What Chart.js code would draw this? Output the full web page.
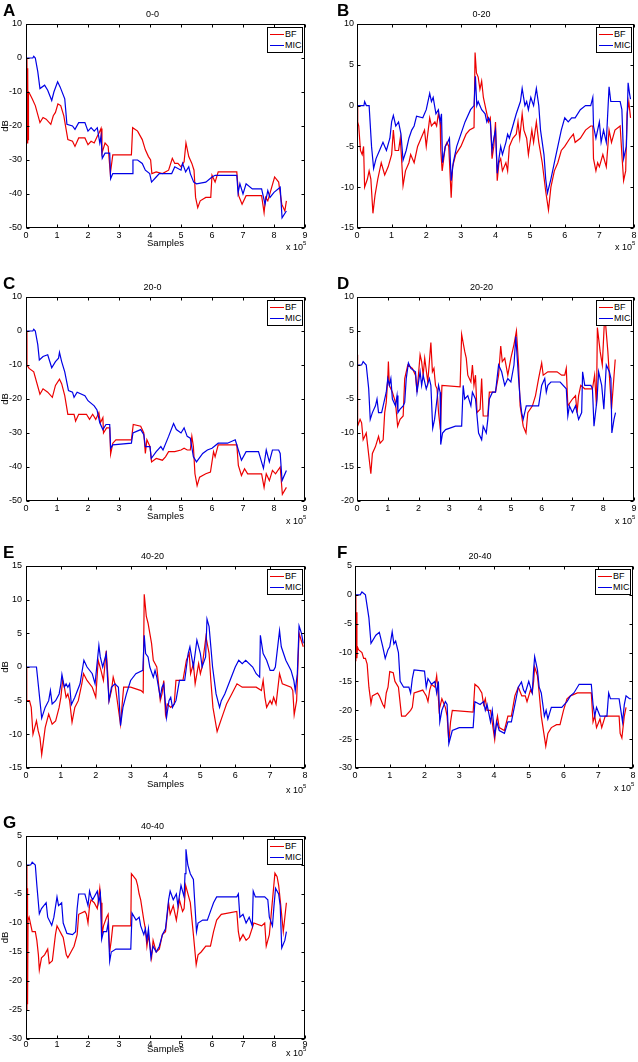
<!DOCTYPE html>
<html><head><meta charset="utf-8">
<script src="https://cdn.jsdelivr.net/npm/chart.js@4"></script>
<style>
body{margin:0;width:638px;height:1062px;background:#fff;position:relative;overflow:hidden;font-family:"Liberation Sans",Arial,sans-serif;color:#000}
canvas{position:absolute}
.lbl{position:absolute;font-weight:bold;font-size:17px;line-height:17px}
.leg{position:absolute;border:1px solid #000;background:#fff;font-size:9px;padding:1px 0;width:34px;box-sizing:content-box}
.row{height:11px;line-height:11px;white-space:nowrap;padding-left:2px;display:flex;align-items:center}
.ln{display:inline-block;width:14px;height:1.5px;margin-right:1px}
.exp{position:absolute;font-size:9px;line-height:10px;white-space:nowrap}
.exp sup{font-size:6px;line-height:0;vertical-align:5px}
</style></head><body>
<script>
// ---- data: [x (x 10^5 samples), dB] ----
const A_BF = [[0.03,0],[0.045,-25],[0.055,-3],[0.065,-24],[0.08,-10],[0.12,-10.5],[0.2,-12],[0.3,-14],[0.45,-19],[0.55,-17.5],[0.65,-18],[0.8,-19.5],[0.88,-17],[0.95,-16],[1.03,-13.5],[1.12,-14],[1.22,-17],[1.35,-24],[1.5,-24.5],[1.58,-26],[1.7,-23.5],[1.9,-23.5],[2.0,-25.5],[2.1,-24.5],[2.2,-25],[2.3,-23],[2.36,-22],[2.42,-20.7],[2.45,-28],[2.55,-25],[2.65,-26],[2.72,-34],[2.8,-28.5],[3.4,-28.5],[3.44,-20.5],[3.6,-21.5],[3.75,-24],[3.85,-27],[3.95,-29],[4.02,-30],[4.06,-34],[4.2,-33.5],[4.4,-34],[4.6,-33],[4.72,-29.5],[4.8,-31],[4.9,-31],[5.0,-32],[5.1,-30.5],[5.16,-25],[5.25,-29],[5.35,-31],[5.42,-33],[5.47,-41],[5.54,-44],[5.62,-42],[5.8,-41],[5.96,-41],[6.0,-34.5],[6.1,-36.5],[6.2,-33.5],[6.8,-33.5],[6.86,-40.5],[6.97,-43],[7.1,-40.5],[7.6,-40.5],[7.68,-45.5],[7.73,-41],[7.8,-42],[8.02,-35],[8.15,-36.5],[8.25,-43],[8.35,-45],[8.4,-42]];
const A_MIC = [[0,0],[0.22,0],[0.25,0.5],[0.3,0],[0.38,-4],[0.45,-9],[0.6,-8],[0.7,-9.5],[0.83,-12.5],[0.9,-10],[1.02,-7],[1.1,-8.5],[1.25,-12],[1.32,-19.5],[1.5,-20],[1.58,-21],[1.7,-19],[1.9,-19],[2.0,-21.5],[2.1,-20.5],[2.2,-21.5],[2.3,-20.5],[2.38,-25],[2.42,-23],[2.46,-29.5],[2.55,-28],[2.7,-28],[2.73,-35.5],[2.8,-34],[3.42,-34],[3.45,-30],[3.6,-30],[3.75,-31],[3.85,-33],[3.99,-34],[4.05,-36.5],[4.2,-35],[4.3,-34],[4.7,-34],[4.8,-32],[5.0,-33],[5.05,-31],[5.15,-33.5],[5.25,-32],[5.3,-34],[5.41,-36.5],[5.5,-37],[5.8,-36.5],[6.0,-35],[6.1,-34.5],[6.8,-34.5],[6.84,-39.7],[6.9,-37],[7.0,-40],[7.1,-37],[7.3,-38.5],[7.6,-38.5],[7.71,-43],[7.8,-39],[7.87,-41],[8.0,-39.5],[8.2,-38],[8.26,-47],[8.4,-45]];

const B_BF = [[0,0],[0.02,-2],[0.05,-2.5],[0.1,-5.5],[0.15,-6],[0.19,-5],[0.22,-10],[0.3,-9],[0.35,-8],[0.4,-9],[0.46,-13.2],[0.52,-11],[0.6,-9],[0.7,-7],[0.8,-8.5],[0.9,-7.5],[1.0,-6],[1.05,-3],[1.1,-5.5],[1.2,-5.5],[1.25,-4],[1.28,-6],[1.33,-9.8],[1.4,-8],[1.5,-7],[1.55,-6],[1.65,-7],[1.75,-5],[1.85,-4],[1.95,-3],[2.0,-5],[2.1,-1.5],[2.15,-2.5],[2.25,-2],[2.3,-2.5],[2.35,-1],[2.4,-2],[2.42,-5.5],[2.46,-8],[2.55,-5],[2.6,-4.5],[2.65,-5],[2.72,-11.3],[2.76,-7.5],[2.85,-6],[3.0,-5],[3.15,-3.5],[3.25,-3],[3.38,-2.7],[3.41,6.5],[3.45,4],[3.5,3.5],[3.55,2],[3.6,3],[3.65,1],[3.7,0],[3.8,-2],[3.85,-1.5],[3.9,-6.5],[3.95,-5],[4.0,-2],[4.05,-9.2],[4.1,-7],[4.15,-6.5],[4.2,-8],[4.3,-7],[4.35,-8],[4.4,-5],[4.5,-4],[4.6,-3.5],[4.65,-2],[4.7,-4],[4.77,-1],[4.82,-3],[4.9,-4],[4.95,-6],[5.05,-3],[5.1,-4.5],[5.18,-2],[5.25,-4.5],[5.35,-7],[5.45,-10.5],[5.53,-12.8],[5.6,-10],[5.7,-8],[5.8,-7],[5.9,-5.5],[6.0,-5],[6.15,-4],[6.25,-3.5],[6.3,-4.5],[6.45,-4],[6.6,-3],[6.75,-2.5],[6.81,-2.5],[6.83,-6.5],[6.9,-8],[6.95,-7],[7.0,-7.5],[7.1,-6],[7.2,-7.5],[7.28,-3],[7.35,-4.5],[7.45,-3],[7.6,-2.5],[7.65,-6],[7.7,-9.2],[7.76,-8],[7.8,-1],[7.85,0.5],[7.9,-1.5]];
const B_MIC = [[0,0],[0.2,0],[0.22,0.5],[0.27,0],[0.35,0],[0.42,-5],[0.48,-7.7],[0.55,-6.5],[0.65,-5.5],[0.75,-4.5],[0.85,-5.5],[0.95,-4],[1.0,-2],[1.05,-1.2],[1.12,-2.5],[1.2,-2],[1.27,-3.5],[1.33,-6.7],[1.42,-5.5],[1.5,-4],[1.58,-3],[1.65,-2.5],[1.72,-1.3],[1.9,-1.5],[2.0,-0.5],[2.1,1.5],[2.15,0.5],[2.2,1],[2.28,-1],[2.35,-0.5],[2.4,-2],[2.44,-1],[2.47,-7],[2.55,-5],[2.62,-4.5],[2.67,-4],[2.72,-9.2],[2.78,-7],[2.88,-5],[3.0,-3.5],[3.12,-2],[3.28,-0.5],[3.38,0],[3.42,3.6],[3.46,0],[3.5,0.5],[3.6,-0.5],[3.7,-1],[3.75,-2],[3.8,-1.5],[3.85,-2],[3.9,-5.5],[3.95,-4],[4.0,-3],[4.05,-8.3],[4.1,-6.5],[4.15,-5],[4.2,-6],[4.3,-4.5],[4.35,-3.5],[4.4,-4],[4.5,-2.5],[4.6,-1],[4.72,0.5],[4.77,2.1],[4.85,0],[4.9,0.5],[4.95,-0.5],[5.02,1],[5.1,0],[5.18,2.1],[5.25,0],[5.3,-3],[5.4,-6],[5.45,-9],[5.5,-10.7],[5.6,-9],[5.7,-7],[5.8,-5],[5.9,-3],[6.0,-1.5],[6.1,-2],[6.2,-1.5],[6.3,-1.5],[6.45,-0.5],[6.6,0],[6.75,0],[6.81,1],[6.83,-2.5],[6.9,-4],[7.0,-2],[7.05,-4.5],[7.12,-3],[7.2,-4.5],[7.28,2.3],[7.33,0.5],[7.6,0.5],[7.65,-0.5],[7.7,-6.5],[7.78,-5],[7.83,2.8],[7.87,1.5],[7.9,0.8]];

const C_BF = [[0,0],[0.03,-10],[0.1,-11],[0.25,-12],[0.45,-18.6],[0.55,-17],[0.7,-18],[0.85,-19.5],[0.95,-16],[1.08,-14.2],[1.15,-15.5],[1.25,-19],[1.35,-24.5],[1.55,-24.5],[1.6,-26.5],[1.7,-24.5],[1.95,-24.5],[2.05,-26],[2.15,-24.5],[2.25,-26],[2.35,-24],[2.4,-27],[2.48,-25.5],[2.5,-30],[2.6,-28.5],[2.7,-28.5],[2.73,-36.2],[2.8,-33],[2.9,-32],[3.4,-32],[3.46,-27.5],[3.7,-28],[3.8,-30],[3.85,-36],[3.9,-32],[4.0,-34],[4.05,-38.5],[4.2,-37.5],[4.4,-38],[4.5,-37],[4.6,-35.5],[4.8,-35.5],[5.0,-35],[5.1,-34.5],[5.2,-35],[5.3,-35],[5.35,-31],[5.4,-34],[5.45,-42],[5.52,-45.5],[5.6,-43],[5.8,-42],[5.95,-41.5],[6.05,-35.5],[6.1,-37],[6.2,-33.5],[6.8,-33.5],[6.85,-39.5],[6.95,-42.5],[7.05,-40.5],[7.15,-42],[7.6,-42],[7.68,-46],[7.75,-42],[7.85,-44],[7.95,-41],[8.05,-42],[8.2,-40],[8.27,-48],[8.4,-46]];
const C_MIC = [[0,0],[0.22,0],[0.25,0.5],[0.3,0],[0.38,-4],[0.43,-8.5],[0.55,-7.5],[0.7,-7],[0.83,-10.8],[0.95,-9],[1.05,-8],[1.08,-6.3],[1.15,-9],[1.25,-12],[1.37,-17.5],[1.5,-18],[1.55,-19.5],[1.65,-18],[1.9,-19],[2.0,-20.5],[2.2,-22],[2.29,-23.2],[2.38,-27],[2.48,-29],[2.58,-27.5],[2.7,-27.5],[2.73,-34.5],[2.8,-33.5],[3.4,-33],[3.45,-30],[3.7,-29],[3.8,-30.5],[3.85,-34],[4.0,-34],[4.04,-37.5],[4.2,-35.5],[4.35,-34],[4.42,-35],[4.6,-31],[4.76,-27.2],[4.85,-29],[5.0,-30],[5.1,-28.5],[5.2,-31],[5.3,-31.5],[5.4,-37],[5.5,-38.5],[5.7,-36],[5.85,-35],[6.0,-34.5],[6.2,-33],[6.5,-33],[6.75,-32],[6.85,-35],[6.95,-38],[7.1,-35.5],[7.5,-35.5],[7.66,-40.4],[7.75,-35],[7.85,-38.5],[7.95,-35],[8.15,-35],[8.2,-36],[8.26,-44],[8.4,-41]];

const D_BF = [[0,1.5],[0.02,-9],[0.1,-8],[0.15,-8.5],[0.2,-11],[0.3,-10],[0.35,-12],[0.4,-14],[0.45,-16],[0.5,-13],[0.6,-12],[0.7,-10.5],[0.75,-11.5],[0.85,-11],[0.9,-7],[0.95,-5.5],[1.0,-2],[1.02,0.5],[1.05,-3],[1.15,-4],[1.25,-5.5],[1.32,-9],[1.4,-8],[1.5,-7.5],[1.55,-2],[1.65,0],[1.8,-0.5],[1.9,-1.5],[1.95,-4],[2.05,1.5],[2.1,0.5],[2.15,-1.5],[2.2,1],[2.3,-2.5],[2.4,3.3],[2.45,-1],[2.5,-0.5],[2.55,-3],[2.6,-3.5],[2.65,-7],[2.71,-9.5],[2.76,-3],[3.35,-3.2],[3.4,4.5],[3.5,2],[3.55,1],[3.6,-1.5],[3.7,-2.5],[3.75,0],[3.8,-3],[3.85,-1.5],[3.9,-7],[4.0,-6.5],[4.05,-2],[4.1,-7.5],[4.25,-7.5],[4.3,-4],[4.5,-4],[4.6,-1.5],[4.67,2.8],[4.72,0.5],[4.8,1],[4.9,-1.5],[5.0,1],[5.1,3],[5.18,5],[5.25,0],[5.3,-6],[5.4,-9],[5.49,-10],[5.55,-7],[5.7,-6],[5.8,-4.5],[5.9,-2],[6.0,0.3],[6.05,-1.5],[6.2,-1],[6.5,-1],[6.65,-1.5],[6.75,-1.5],[6.8,-0.5],[6.85,-6],[7.0,-5],[7.1,-4.5],[7.15,-7],[7.2,-4.5],[7.27,-3],[7.4,-3.5],[7.65,-3.5],[7.72,-1.5],[7.78,-6],[7.81,5.5],[7.9,2],[7.97,0],[8.05,7.5],[8.15,2],[8.27,-6.5],[8.39,0.8]];
const D_MIC = [[0,0],[0.15,0],[0.2,0.5],[0.3,0],[0.38,-3.5],[0.43,-8],[0.5,-7],[0.6,-6],[0.65,-5],[0.7,-7],[0.8,-7],[0.85,-6],[0.95,-4],[1.0,-2],[1.05,-3],[1.1,-2],[1.15,-5],[1.25,-6],[1.3,-4.5],[1.33,-7],[1.4,-6.5],[1.5,-6],[1.55,-5.5],[1.6,-2],[1.67,0.3],[1.75,-0.5],[1.9,-1],[1.95,-4],[2.05,-1],[2.1,-3],[2.15,-1.5],[2.25,-3.5],[2.35,-2],[2.4,-3],[2.46,-9.3],[2.52,-8],[2.6,-5],[2.65,-3],[2.7,-4],[2.72,-11.7],[2.78,-10],[2.88,-9.5],[3.2,-9],[3.4,-9],[3.45,-3],[3.5,-5],[3.6,-4.5],[3.7,-6],[3.75,-4],[3.85,-5],[3.95,-10],[4.05,-11],[4.1,-9],[4.2,-10],[4.25,-8],[4.3,-5],[4.4,-4],[4.5,-4],[4.6,0],[4.7,-1],[4.75,-2],[4.8,-3],[4.9,-2],[5.0,-2.5],[5.1,0],[5.16,4.2],[5.25,-2],[5.3,-5],[5.35,-7],[5.4,-8],[5.5,-6],[5.9,-6],[6.0,-3],[6.1,-2],[6.15,-4],[6.2,-3],[6.3,-2.5],[6.6,-2.5],[6.8,-3.5],[6.85,-7.5],[6.9,-6],[7.0,-7],[7.1,-6],[7.2,-8],[7.3,-7],[7.33,-1],[7.4,-3],[7.6,-3],[7.65,-3.5],[7.7,-9],[7.8,-5],[7.85,-1],[7.95,-3],[8.02,-6.5],[8.1,0],[8.2,-1],[8.25,-2],[8.28,-10],[8.35,-8],[8.4,-7]];

const E_BF = [[0,0],[0.02,-5],[0.1,-5],[0.15,-6],[0.2,-10],[0.25,-9],[0.3,-8],[0.35,-9.5],[0.4,-10.5],[0.45,-13],[0.5,-11],[0.55,-9],[0.65,-7],[0.75,-8.5],[0.85,-8],[0.95,-6],[1.0,-4.5],[1.05,-2],[1.1,-3],[1.15,-4.5],[1.2,-4],[1.25,-5],[1.32,-8.2],[1.4,-6],[1.5,-5],[1.6,-2.5],[1.65,-1],[1.75,-2],[1.9,-3],[2.0,-4.5],[2.07,1],[2.15,-0.5],[2.22,-2],[2.3,2.4],[2.35,-1.5],[2.38,-5],[2.45,-3.5],[2.5,-1.5],[2.55,-2.5],[2.71,-8.5],[2.75,-6],[2.8,-3],[3.0,-3],[3.3,-3.5],[3.36,-3.8],[3.39,10.8],[3.45,7.5],[3.5,6.5],[3.6,3.5],[3.65,1],[3.75,0],[3.85,-5],[3.9,-4],[3.95,-2],[4.0,-7],[4.05,-5.5],[4.15,-6],[4.25,-5.5],[4.3,-2],[4.5,-2],[4.6,1],[4.68,2],[4.72,-1],[4.8,0.5],[4.85,-2.5],[4.95,0.5],[5.0,-1],[5.05,0],[5.16,4.5],[5.25,2],[5.3,-2],[5.36,-6],[5.48,-9.6],[5.55,-8.5],[5.65,-7],[5.75,-5.5],[5.9,-4],[6.05,-2.5],[6.2,-3],[6.6,-3],[6.75,-3.5],[6.8,-2],[6.85,-4.5],[6.9,-6],[7.0,-5],[7.05,-5.5],[7.1,-4.5],[7.17,-5.5],[7.27,-1],[7.35,-2.5],[7.6,-3],[7.65,-3.5],[7.69,-7.1],[7.76,-5],[7.83,5],[7.95,3]];
const E_MIC = [[0,0],[0.3,0],[0.36,-3],[0.45,-7.6],[0.55,-6],[0.65,-5],[0.7,-3.5],[0.75,-5.5],[0.85,-5],[0.95,-4],[1.0,-2.5],[1.03,-1.1],[1.1,-3],[1.15,-2.5],[1.2,-3],[1.25,-2.5],[1.3,-5.6],[1.4,-4.5],[1.55,-2.5],[1.66,1],[1.75,0],[1.9,-1],[1.98,-2.5],[2.09,3.2],[2.13,1.5],[2.2,0],[2.3,2],[2.33,-1],[2.38,-5],[2.45,-3],[2.55,-2.5],[2.65,-3],[2.71,-8.7],[2.78,-6],[2.88,-4],[3.0,-2],[3.15,-1],[3.35,-0.5],[3.39,4.7],[3.43,2],[3.5,1.5],[3.55,0],[3.65,-1.5],[3.7,-0.5],[3.75,-1.5],[3.85,-4.5],[3.9,-3],[3.95,-2.5],[4.03,-7.5],[4.1,-5],[4.15,-4.5],[4.2,-6],[4.3,-5],[4.4,-2],[4.55,-2],[4.65,2],[4.7,3],[4.8,0],[4.9,4],[5.0,2],[5.05,0],[5.15,1.5],[5.19,7.1],[5.25,6],[5.3,3],[5.35,0],[5.45,-4],[5.55,-6],[5.6,-5],[5.7,-4],[5.85,-2],[6.0,0],[6.1,1],[6.2,0.5],[6.3,1],[6.5,0],[6.6,-1],[6.7,-1.5],[6.72,4.7],[6.8,2],[6.9,1],[7.0,-0.5],[7.1,-0.5],[7.15,0],[7.27,5.4],[7.32,3],[7.45,1],[7.6,-0.5],[7.68,-2],[7.72,-3.5],[7.78,-1],[7.83,6.1],[7.9,5],[7.95,3.5]];

const F_BF = [[0.01,0],[0.025,-11.5],[0.04,-3],[0.055,-11],[0.07,-9],[0.1,-9.5],[0.2,-10],[0.25,-11],[0.3,-11],[0.35,-12],[0.4,-16],[0.46,-18.8],[0.5,-17.5],[0.65,-17],[0.7,-17.5],[0.8,-19],[0.85,-19.5],[0.9,-17],[0.95,-16],[1.0,-13.3],[1.1,-13.5],[1.15,-15],[1.25,-16],[1.34,-21],[1.45,-21],[1.6,-20],[1.65,-19.5],[1.7,-17],[1.95,-16.5],[2.0,-17],[2.05,-17.5],[2.1,-18.5],[2.15,-16.5],[2.2,-15.5],[2.3,-16],[2.35,-14],[2.38,-16],[2.42,-20],[2.5,-18],[2.6,-19.5],[2.65,-21],[2.7,-25.5],[2.75,-22],[2.8,-20],[3.4,-20.3],[3.45,-15.5],[3.55,-16],[3.65,-17],[3.7,-19],[3.75,-18],[3.8,-20],[3.9,-20],[4.02,-25.1],[4.07,-22],[4.1,-21],[4.15,-23],[4.3,-23.5],[4.4,-21],[4.5,-21],[4.6,-17.5],[4.7,-16],[4.8,-17.5],[4.9,-17.5],[4.95,-18.5],[5.05,-16.5],[5.1,-17],[5.14,-15],[5.17,-12.5],[5.25,-14],[5.3,-17],[5.36,-21],[5.49,-26.2],[5.55,-24],[5.65,-23],[5.8,-22.5],[5.9,-22.5],[6.0,-20],[6.1,-18],[6.2,-17.5],[6.4,-17],[6.8,-17],[6.85,-22],[6.9,-21],[6.95,-23],[7.05,-21.5],[7.1,-23],[7.2,-21],[7.6,-21],[7.63,-24],[7.68,-24.8],[7.75,-21],[7.8,-19.5]];
const F_MIC = [[0,0],[0.15,0],[0.2,0.5],[0.3,0],[0.4,-4],[0.46,-8.4],[0.6,-7],[0.7,-6.5],[0.8,-9],[0.87,-11],[0.95,-9.5],[1.0,-9],[1.07,-6.4],[1.12,-8.5],[1.17,-8],[1.25,-10],[1.3,-15],[1.4,-16],[1.55,-16],[1.6,-17],[1.65,-14.5],[1.7,-13],[2.0,-13.2],[2.05,-16],[2.1,-14.5],[2.2,-15.5],[2.3,-15],[2.35,-17],[2.4,-15],[2.44,-22],[2.5,-20],[2.6,-18.5],[2.65,-19],[2.7,-25.8],[2.8,-23.5],[3.0,-23],[3.4,-23],[3.45,-18.5],[3.6,-19],[3.7,-18.5],[3.75,-20],[3.8,-19],[3.9,-22],[3.95,-20],[4.02,-24.3],[4.08,-22],[4.15,-23.5],[4.3,-24],[4.4,-22],[4.5,-22],[4.6,-19],[4.7,-16],[4.79,-15.1],[4.85,-16.5],[4.9,-17],[5.0,-15],[5.05,-16],[5.1,-17],[5.14,-13],[5.17,-10.7],[5.25,-13],[5.3,-16],[5.36,-17],[5.45,-21],[5.5,-20],[5.55,-21.5],[5.65,-19.5],[5.95,-19.5],[6.1,-18.5],[6.2,-17.5],[6.3,-17],[6.45,-15.5],[6.8,-15.5],[6.85,-19],[6.9,-21],[6.95,-19.5],[7.05,-21],[7.25,-21],[7.3,-17],[7.35,-18],[7.6,-18],[7.65,-20],[7.7,-22],[7.75,-19],[7.8,-17.5],[7.9,-18],[7.95,-18]];

const G_BF = [[0.02,0],[0.03,-25],[0.04,-4],[0.05,-24],[0.065,-9.5],[0.1,-9],[0.2,-11.5],[0.3,-11.5],[0.35,-13],[0.4,-15.5],[0.43,-18.1],[0.5,-16],[0.6,-15.5],[0.7,-14.5],[0.75,-17],[0.85,-16.5],[0.95,-12],[1.0,-10.5],[1.05,-11],[1.15,-12],[1.2,-12.5],[1.3,-15.5],[1.35,-16],[1.45,-15],[1.55,-14],[1.65,-12],[1.7,-8.5],[1.9,-8],[1.95,-8.5],[2.0,-10],[2.05,-7],[2.1,-6],[2.2,-6.5],[2.3,-7.5],[2.38,-4],[2.42,-6.5],[2.45,-12],[2.5,-10.5],[2.6,-9],[2.65,-8.5],[2.7,-15],[2.75,-13],[2.8,-10.5],[3.38,-10.5],[3.4,-1.5],[3.55,-2.5],[3.6,-3.5],[3.65,-5],[3.7,-6],[3.8,-9.5],[3.85,-11],[3.9,-14],[3.95,-12],[4.05,-16],[4.1,-13],[4.2,-15],[4.3,-14.5],[4.4,-12],[4.5,-11.5],[4.6,-6.5],[4.65,-8.5],[4.75,-7],[4.85,-9.5],[4.95,-6],[5.05,-8],[5.1,-7.5],[5.15,-3.5],[5.2,-4.5],[5.3,-6.5],[5.4,-12],[5.49,-17.2],[5.55,-15.5],[5.65,-15],[5.8,-14],[5.95,-14],[6.05,-11.5],[6.15,-9.5],[6.3,-8.5],[6.8,-8],[6.85,-11.5],[6.9,-13],[7.0,-12],[7.1,-13],[7.2,-12.5],[7.35,-10],[7.6,-10.5],[7.7,-10],[7.75,-14],[7.85,-12],[8.03,-1.4],[8.1,-2],[8.15,-3.5],[8.2,-6],[8.3,-11.5],[8.35,-9],[8.4,-6.5]];
const G_MIC = [[0,0],[0.15,0],[0.2,0.5],[0.3,0],[0.35,-3.5],[0.43,-8.4],[0.5,-7.5],[0.65,-6.5],[0.7,-9],[0.83,-10.4],[0.9,-9],[1.0,-5.5],[1.05,-7],[1.15,-6.5],[1.2,-10],[1.32,-11.8],[1.5,-12],[1.6,-11.5],[1.65,-7.5],[1.7,-5],[1.9,-5],[2.0,-7],[2.05,-4.5],[2.1,-5.5],[2.15,-6],[2.3,-4.5],[2.35,-6.5],[2.4,-5],[2.44,-12.8],[2.5,-11.5],[2.6,-11.5],[2.65,-10],[2.7,-16.6],[2.75,-15],[2.9,-14.5],[3.38,-14.5],[3.42,-8.3],[3.55,-9.5],[3.65,-9],[3.7,-10.5],[3.8,-12],[3.85,-11],[3.9,-13],[3.95,-11],[4.03,-16],[4.1,-14],[4.2,-15],[4.3,-14],[4.4,-12],[4.5,-11],[4.6,-6],[4.65,-4.5],[4.75,-6],[4.85,-5],[4.9,-7],[5.0,-3.5],[5.05,-4.5],[5.1,-5.5],[5.13,-1.5],[5.16,2.7],[5.22,0],[5.3,-1.5],[5.4,-2.5],[5.45,-7],[5.5,-11.5],[5.55,-10],[5.7,-9.5],[5.85,-9.5],[5.95,-8],[6.05,-6.5],[6.15,-5.5],[6.8,-5.5],[6.85,-5],[6.9,-9],[7.0,-8.5],[7.1,-10],[7.2,-9],[7.3,-10.5],[7.33,-4.5],[7.4,-5.5],[7.7,-5.5],[7.8,-6],[7.85,-9],[7.95,-10.5],[8.0,-7],[8.05,-4],[8.15,-5],[8.2,-7],[8.25,-14.3],[8.35,-13],[8.4,-11.5]];

const SERIES_NAMES = ['BF', 'MIC'];
const PANEL_LETTERS = ['A','B','C','D','E','F','G'];
const PANEL_TITLES = ['0-0','0-20','20-0','20-20','40-20','20-40','40-40'];
const X_MAX = [9, 8, 9, 9, 8, 8, 9];
const Y_MIN = [-50, -15, -50, -20, -15, -30, -30];
const Y_MAX = [10, 10, 10, 10, 15, 5, 5];
const Y_STEP = [10, 5, 10, 5, 5, 5, 5];
const X_TITLE = 'Samples';
const Y_TITLE = 'dB';
const X_EXP = '5';
const BF_DATA = [A_BF, B_BF, C_BF, D_BF, E_BF, F_BF, G_BF];
const MIC_DATA = [A_MIC, B_MIC, C_MIC, D_MIC, E_MIC, F_MIC, G_MIC];

// ---- layout (pixel boxes of each plot area) ----
const BOX = [
  {l:26, t:24, r:305, b:228, col:0, sy:15, ey:19, tp:2},
  {l:357,t:24, r:634, b:228, col:1, sy:15, ey:19, tp:2},
  {l:26, t:297,r:305, b:501, col:0, sy:15, ey:20, tp:2},
  {l:357,t:297,r:634, b:501, col:1, sy:15, ey:20, tp:2},
  {l:26, t:566,r:305, b:768, col:0, sy:16, ey:22, tp:2},
  {l:355,t:566,r:633, b:768, col:1, sy:16, ey:20, tp:2},
  {l:26, t:836,r:305, b:1039,col:0, sy:10, ey:14, tp:0}
];
const RED = '#ec0000', BLUE = '#0000e6';
const FONT = '"Liberation Sans", Arial, sans-serif';

const framePlugin = {
  id: 'frame',
  afterDatasetsDraw(chart) {
    const {ctx, chartArea: a, scales: {x, y}} = chart;
    ctx.save();
    ctx.strokeStyle = '#000';
    ctx.lineWidth = 1;
    const L = Math.round(a.left) + 0.5, R = Math.round(a.right) - 0.5;
    const T = Math.round(a.top) + 0.5, B = Math.round(a.bottom) - 0.5;
    ctx.beginPath();
    x.ticks.forEach(t => {
      const px = Math.round(x.getPixelForValue(t.value)) + 0.5;
      ctx.moveTo(px, B); ctx.lineTo(px, B - 3);
      ctx.moveTo(px, T); ctx.lineTo(px, T + 3);
    });
    y.ticks.forEach(t => {
      const py = Math.round(y.getPixelForValue(t.value)) + 0.5;
      ctx.moveTo(L, py); ctx.lineTo(L + 3, py);
      ctx.moveTo(R, py); ctx.lineTo(R - 3, py);
    });
    ctx.stroke();
    ctx.strokeRect(L, T, R - L, B - T);
    ctx.restore();
  }
};

const TOP = 24, BOT = 28, RPAD = 6;
PANEL_LETTERS.forEach((letter, i) => {
  const bx = BOX[i];
  const left = bx.col === 0;
  const Lw = left ? 26 : 28;
  const cl = bx.l - Lw, ct = bx.t - TOP;
  const w = bx.r - cl + RPAD, h = bx.b - ct + BOT;
  const c = document.createElement('canvas');
  c.width = w; c.height = h;
  c.style.left = cl + 'px'; c.style.top = ct + 'px';
  c.style.width = w + 'px'; c.style.height = h + 'px';
  document.body.appendChild(c);
  const tickFont = {family: FONT, size: 9};
  new Chart(c, {
    type: 'line',
    data: {
      datasets: [
        {label: SERIES_NAMES[0], data: BF_DATA[i].map(p => ({x: p[0], y: p[1]})), borderColor: RED, borderWidth: 1.2, pointRadius: 0, tension: 0, order: 1, fill: false},
        {label: SERIES_NAMES[1], data: MIC_DATA[i].map(p => ({x: p[0], y: p[1]})), borderColor: BLUE, borderWidth: 1.2, pointRadius: 0, tension: 0, order: 0, fill: false}
      ]
    },
    options: {
      responsive: false, animation: false, events: [],
      layout: {padding: {left: 0, right: RPAD, top: 0, bottom: 0}},
      plugins: {
        legend: {display: false}, tooltip: {enabled: false},
        title: {display: true, text: PANEL_TITLES[i], color: '#000', font: {family: FONT, size: 9, weight: 'normal', lineHeight: 1.2},
                padding: {top: TOP - 10.8 - 3.6, bottom: 3.6}}
      },
      scales: {
        x: {
          type: 'linear', min: 0, max: X_MAX[i],
          grid: {display: false, drawTicks: false}, border: {display: false},
          ticks: {stepSize: 1, color: '#000', font: tickFont, padding: bx.tp, maxRotation: 0, autoSkip: false},
          title: {display: left, text: X_TITLE, color: '#000', font: {family: FONT, size: 9.5}, padding: {top: 0, bottom: BOT - 5.7 - bx.sy}},
          afterFit: s => { s.height = BOT; }
        },
        y: {
          min: Y_MIN[i], max: Y_MAX[i],
          grid: {display: false, drawTicks: false}, border: {display: false},
          ticks: {stepSize: Y_STEP[i], color: '#000', font: tickFont, padding: left ? 4 : 3, autoSkip: false},
          title: {display: left, text: Y_TITLE, color: '#000', font: {family: FONT, size: 9.5}, padding: {top: 0, bottom: 0}},
          afterFit: s => { s.width = Lw; }
        }
      }
    },
    plugins: [framePlugin]
  });

  const lab = document.createElement('div');
  lab.className = 'lbl'; lab.textContent = letter;
  lab.style.left = (left ? 3 : 337) + 'px'; lab.style.top = (bx.t - 22) + 'px';
  document.body.appendChild(lab);

  const lg = document.createElement('div');
  lg.className = 'leg';
  lg.style.left = (bx.r - 38) + 'px'; lg.style.top = (bx.t + 3) + 'px';
  lg.innerHTML = '<div class="row"><span class="ln" style="background:' + RED + '"></span>' + SERIES_NAMES[0] + '</div>' +
                 '<div class="row"><span class="ln" style="background:' + BLUE + '"></span>' + SERIES_NAMES[1] + '</div>';
  document.body.appendChild(lg);

  const ex = document.createElement('div');
  ex.className = 'exp';
  ex.innerHTML = 'x 10<sup>' + X_EXP + '</sup>';
  ex.style.left = (bx.r - 19) + 'px'; ex.style.top = (bx.b + bx.ey - 5) + 'px';
  document.body.appendChild(ex);
});
</script>
</body></html>
